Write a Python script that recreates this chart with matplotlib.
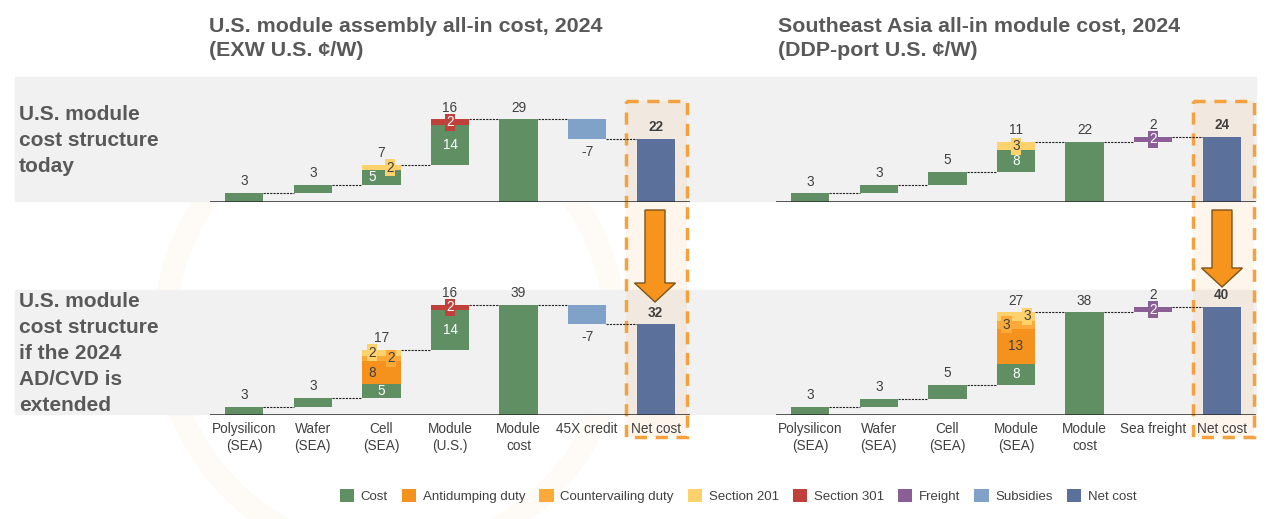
import numpy as np
import matplotlib
matplotlib.use("Agg")
import matplotlib.pyplot as plt
from matplotlib.patches import Patch, Rectangle, FancyArrow, Circle

plt.rcParams['font.family'] = ['Liberation Sans', 'DejaVu Sans']

# categories
us_cats = ["Polysilicon\n(SEA)", "Wafer\n(SEA)", "Cell\n(SEA)", "Module\n(U.S.)",
           "Module\ncost", "45X credit", "Net cost"]
sea_cats = ["Polysilicon\n(SEA)", "Wafer\n(SEA)", "Cell\n(SEA)", "Module\n(SEA)",
            "Module\ncost", "Sea freight", "Net cost"]

series = ["Cost", "Antidumping duty", "Countervailing duty", "Section 201",
          "Section 301", "Freight", "Subsidies", "Net cost"]
colors = ["#5f8f63", "#f5921e", "#fbaa3a", "#fdd16c",
          "#c0413b", "#8b5e96", "#80a1c8", "#5b719b"]

# U.S. module cost structure today
us_now_cost = [3, 3, 5, 14, 29, 0, 0]
us_now_s201 = [0, 0, 2, 0, 0, 0, 0]
us_now_s301 = [0, 0, 0, 2, 0, 0, 0]
us_now_subs = [0, 0, 0, 0, 0, -7, 0]
us_now_net = [0, 0, 0, 0, 0, 0, 22]

# U.S. module cost structure if AD/CVD extended
us_ext_cost = [3, 3, 5, 14, 39, 0, 0]
us_ext_ad = [0, 0, 8, 0, 0, 0, 0]
us_ext_cvd = [0, 0, 2, 0, 0, 0, 0]
us_ext_s201 = [0, 0, 2, 0, 0, 0, 0]
us_ext_s301 = [0, 0, 0, 2, 0, 0, 0]
us_ext_subs = [0, 0, 0, 0, 0, -7, 0]
us_ext_net = [0, 0, 0, 0, 0, 0, 32]

# Southeast Asia today
sea_now_cost = [3, 3, 5, 8, 22, 0, 0]
sea_now_s201 = [0, 0, 0, 3, 0, 0, 0]
sea_now_freight = [0, 0, 0, 0, 0, 2, 0]
sea_now_net = [0, 0, 0, 0, 0, 0, 24]

# Southeast Asia if AD/CVD extended
sea_ext_cost = [3, 3, 5, 8, 38, 0, 0]
sea_ext_ad = [0, 0, 0, 13, 0, 0, 0]
sea_ext_cvd = [0, 0, 0, 3, 0, 0, 0]
sea_ext_s201 = [0, 0, 0, 3, 0, 0, 0]
sea_ext_freight = [0, 0, 0, 0, 0, 2, 0]
sea_ext_net = [0, 0, 0, 0, 0, 0, 40]

totals = [4, 6]  # bars that start from zero
white_txt = ["Cost", "Section 301", "Freight"]
dark = "#404040"
num_fs = 9.8

W, H = 1267, 519
fig = plt.figure(figsize=(W / 100, H / 100), dpi=100)
bg = fig.add_axes([0, 0, 1, 1], zorder=0)
bg.set_xlim(0, W)
bg.set_ylim(H, 0)
bg.axis("off")

# faint watermark ring
bg.add_patch(Circle((390, 330), 225, fill=False, lw=16, color="#fefbf6", zorder=0))

# grey row bands
bg.add_patch(Rectangle((15, 77), 1241, 124, color="#f1f1f1", zorder=1))
bg.add_patch(Rectangle((15, 290), 1241, 124, color="#f1f1f1", zorder=1))

# dashed highlight boxes round net cost
for x0 in (626, 1193):
    bg.add_patch(Rectangle((x0, 101), 61, 336, facecolor="#f7941d", alpha=0.08,
                           edgecolor="none", zorder=2))
    bg.add_patch(Rectangle((x0, 101), 61, 336, fill=False, edgecolor="#f4a13e",
                           lw=2.5, linestyle=(0, (3.5, 2.5)), zorder=3))

# arrows
for xc, tip in ((655, 302), (1222, 287)):
    bg.add_patch(FancyArrow(xc, 210, 0, tip - 210, width=20, head_width=41,
                            head_length=19, length_includes_head=True,
                            facecolor="#f7941d", edgecolor="#7a5418", lw=1, zorder=4))

# titles and row labels
title_kw = dict(fontsize=15.4, fontweight="bold", color="#595959", va="top",
                linespacing=1.33)
bg.text(209, 17, "U.S. module assembly all-in cost, 2024\n(EXW U.S. \u00a2/W)", **title_kw)
bg.text(778, 17, "Southeast Asia all-in module cost, 2024\n(DDP-port U.S. \u00a2/W)", **title_kw)
row_kw = dict(fontsize=15, fontweight="bold", color="#595959", va="top", linespacing=1.46)
bg.text(19, 105, "U.S. module\ncost structure\ntoday", **row_kw)
bg.text(19, 292, "U.S. module\ncost structure\nif the 2024\nAD/CVD is\nextended", **row_kw)


def waterfall(rect, cats, data, scale, dx, show_cats):
    ax = fig.add_axes(rect, zorder=2)
    ax.patch.set_visible(False)
    n = len(cats)
    x = np.arange(n)
    step = np.zeros(n)
    for name in series:
        if name in data:
            step += np.array(data[name], dtype=float)
    base = np.zeros(n)
    after = np.zeros(n)
    run = 0.0
    for i in range(n):
        if i in totals:
            base[i] = 0
            run = step[i]
        else:
            base[i] = run
            run += step[i]
        after[i] = run
    bw = 0.56
    cum = base.copy()
    nseg = np.zeros(n)
    for name in series:
        if name in data:
            nseg += np.array(data[name]) != 0
    for name, col in zip(series, colors):
        if name not in data:
            continue
        v = np.array(data[name], dtype=float)
        ax.bar(x, v, bottom=cum, width=bw, color=col, zorder=3)
        for i in range(n):
            if v[i] == 0:
                continue
            if nseg[i] > 1 or name == "Freight":
                tc = "white" if name in white_txt else dark
                bbox = None
                if abs(v[i]) <= 3:
                    bbox = dict(facecolor=col, edgecolor="none", pad=1.0)
                ax.text(x[i] + dx.get((i, name), 0), cum[i] + v[i] / 2, f"{v[i]:.0f}",
                        ha="center", va="center", fontsize=num_fs, color=tc, bbox=bbox,
                        zorder=5)
        cum = cum + v
    # value labels
    for i in range(n):
        bold = "bold" if i == n - 1 else "normal"
        if step[i] >= 0:
            ax.annotate(f"{step[i]:.0f}", (x[i], base[i] + step[i]), xytext=(0, 3.5),
                        textcoords="offset points", ha="center", va="bottom",
                        fontsize=num_fs, color=dark, fontweight=bold, zorder=6)
        else:
            ax.annotate(f"{step[i]:.0f}", (x[i], base[i] + step[i]), xytext=(0, -4),
                        textcoords="offset points", ha="center", va="top",
                        fontsize=num_fs, color=dark, zorder=6)
    # connectors
    for i in range(n - 1):
        ax.plot([x[i] + bw / 2, x[i + 1] - bw / 2], [after[i], after[i]], color="#222222",
                lw=0.8, linestyle=(0, (2, 1)), zorder=2)
    ax.axhline(0, color="#2b2b2b", lw=1.1, zorder=4)
    ax.set_xlim(-0.5, n - 0.5)
    ax.set_ylim(0, 124 / scale)
    for s in ax.spines.values():
        s.set_visible(False)
    ax.set_yticks([])
    ax.set_xticks(x)
    if show_cats:
        ax.set_xticklabels(cats, fontsize=num_fs, color=dark, linespacing=1.25)
        ax.tick_params(axis="x", length=0, pad=5)
    else:
        ax.set_xticklabels([])
        ax.tick_params(axis="x", length=0)
    return ax


def rect(px_left, px_top):
    return [px_left / W, (H - px_top - 124) / H, 480 / W, 124 / H]


waterfall(rect(210, 77.5), us_cats,
          {"Cost": us_now_cost, "Section 201": us_now_s201, "Section 301": us_now_s301,
           "Subsidies": us_now_subs, "Net cost": us_now_net},
          2.83, {(2, "Cost"): -0.14, (2, "Section 201"): 0.13}, False)
waterfall(rect(210, 291), us_cats,
          {"Cost": us_ext_cost, "Antidumping duty": us_ext_ad, "Countervailing duty": us_ext_cvd,
           "Section 201": us_ext_s201, "Section 301": us_ext_s301,
           "Subsidies": us_ext_subs, "Net cost": us_ext_net},
          2.83, {(2, "Antidumping duty"): -0.14, (2, "Countervailing duty"): 0.14,
                 (2, "Section 201"): -0.14}, True)
waterfall(rect(776, 77.5), sea_cats,
          {"Cost": sea_now_cost, "Section 201": sea_now_s201, "Freight": sea_now_freight,
           "Net cost": sea_now_net},
          2.7, {}, False)
waterfall(rect(776, 291), sea_cats,
          {"Cost": sea_ext_cost, "Antidumping duty": sea_ext_ad, "Countervailing duty": sea_ext_cvd,
           "Section 201": sea_ext_s201, "Freight": sea_ext_freight, "Net cost": sea_ext_net},
          2.7, {(3, "Countervailing duty"): -0.14, (3, "Section 201"): 0.16}, True)

handles = [Patch(facecolor=c, edgecolor="none", label=s) for s, c in zip(series, colors)]
fig.legend(handles=handles, loc="center", bbox_to_anchor=(738 / W, 1 - 496 / H), ncol=8,
           frameon=False, fontsize=9.5, handlelength=1.1, handleheight=1.1,
           handletextpad=0.5, columnspacing=1.05, labelcolor=dark)

fig.savefig("out.png", dpi=100, facecolor="white")
